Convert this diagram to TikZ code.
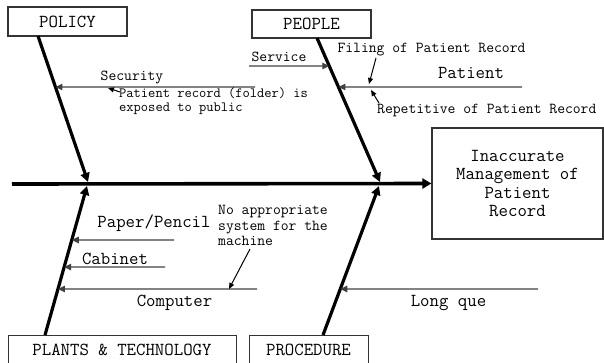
\documentclass[tikz,border=0pt]{standalone}
\usepackage{fontspec}
\usetikzlibrary{arrows.meta}
\begin{document}
\begin{tikzpicture}[x=1pt,y=-1pt,
  catbox/.style={draw=black!80,line width=1.2pt,fill=white,inner sep=0pt,font=\ttfamily\fontsize{18.3}{18.5}\selectfont},
  bone/.style={line width=3.2pt,-{Triangle[length=9pt,width=9pt]}},
  spine/.style={line width=3.6pt,-{Triangle[length=9pt,width=10pt]}},
  branch/.style={draw=black!75,line width=1.4pt,-{Triangle[length=7pt,width=6.5pt]}},
  note/.style={line width=1pt,-{Triangle[length=6pt,width=5pt]}},
  big/.style={font=\ttfamily\fontsize{18.3}{18.5}\selectfont,inner sep=0pt},
  mid/.style={font=\ttfamily\fontsize{15.2}{15.5}\selectfont,inner sep=0pt},
  small/.style={font=\ttfamily\fontsize{14.1}{14}\selectfont,inner sep=0pt}]
\useasboundingbox (0,0) rectangle (604,362);
% boxes
\node[catbox,minimum width=119pt,minimum height=29pt] (policy) at (67.5,21.5) {POLICY};
\node[catbox,minimum width=119pt,minimum height=28pt] (people) at (311.5,24) {PEOPLE};
\node[catbox,minimum width=228pt,minimum height=31pt,anchor=north west] (plants) at (8,335) {};
\node[big] at (122,349.5) {PLANTS \& TECHNOLOGY};
\node[catbox,minimum width=119pt,minimum height=31pt,anchor=north west] (proc) at (249,335) {};
\node[big] at (308.5,349.5) {PROCEDURE};
\node[catbox,minimum width=171pt,minimum height=111pt,align=center] (effect) at (517.5,183.5) {Inaccurate\\Management of\\Patient\\Record};
% spine
\coordinate (tail) at (12,184);
\draw[spine] (tail) -- (effect.west);
% bone endpoints
\coordinate (polA) at (38,36);
\coordinate (polB) at (88,182);
\coordinate (peoA) at (317,38);
\coordinate (peoB) at (380,182);
\coordinate (plaA) at (45,335);
\coordinate (plaB) at (87,186);
\coordinate (proA) at (323,335);
\coordinate (proB) at (379,186);
\draw[bone] (polA) -- (polB);
\draw[bone] (peoA) -- (peoB);
\draw[bone] (plaA) -- (plaB);
\draw[bone] (proA) -- (proB);
% POLICY branches
\coordinate (secS) at (255,87);
\coordinate (secE) at (20,87);
\draw[branch] (secS) -- (intersection of polA--polB and secS--secE);
\node[mid] (sec) at (132,77) {Security};
\node[small,anchor=north west,align=left] (prec) at (119,88) {Patient record (folder) is\\exposed to public};
\coordinate (precT) at (108,88);
\draw[note] (prec.north west) ++(1,4) -- (precT);
% PEOPLE branches
\coordinate (serS) at (249,66);
\coordinate (serE) at (400,66);
\draw[branch] (serS) -- (intersection of peoA--peoB and serS--serE);
\node[mid] (ser) at (279,57) {Service};
\coordinate (patS) at (522,87);
\coordinate (patE) at (250,87);
\draw[branch] (patS) -- (intersection of peoA--peoB and patS--patE);
\node[big] (pat) at (471,73) {Patient};
\node[mid] (fil) at (431.5,50) {Filing of Patient Record};
\coordinate (filT) at (369,84);
\draw[note] (376,58) -- (filT);
\node[mid,anchor=west] (rep) at (377,110) {Repetitive of Patient Record};
\coordinate (repT) at (371,90);
\draw[note] (379,103) -- (repT);
% PLANTS branches
\coordinate (papS) at (174,240);
\coordinate (papE) at (20,240);
\draw[branch] (papS) -- (intersection of plaA--plaB and papS--papE);
\node[big] (pap) at (154,223) {Paper/Pencil};
\coordinate (cabS) at (165,267);
\coordinate (cabE) at (20,267);
\draw[branch] (cabS) -- (intersection of plaA--plaB and cabS--cabE);
\node[big] (cab) at (115,259) {Cabinet};
\coordinate (comS) at (257,289);
\coordinate (comE) at (20,289);
\draw[branch] (comS) -- (intersection of plaA--plaB and comS--comE);
\node[big] (com) at (174.5,303) {Computer};
\node[mid,anchor=north west,align=left] (noap) at (218,205.5) {No appropriate\\system for the\\machine};
\coordinate (noT) at (229,289);
\draw[note] (250,249) -- (noT);
% PROCEDURE branch
\coordinate (lqS) at (538,289);
\coordinate (lqE) at (300,289);
\draw[branch] (lqS) -- (intersection of proA--proB and lqS--lqE);
\node[big] (lq) at (448.5,303) {Long que};
\end{tikzpicture}
\end{document}
